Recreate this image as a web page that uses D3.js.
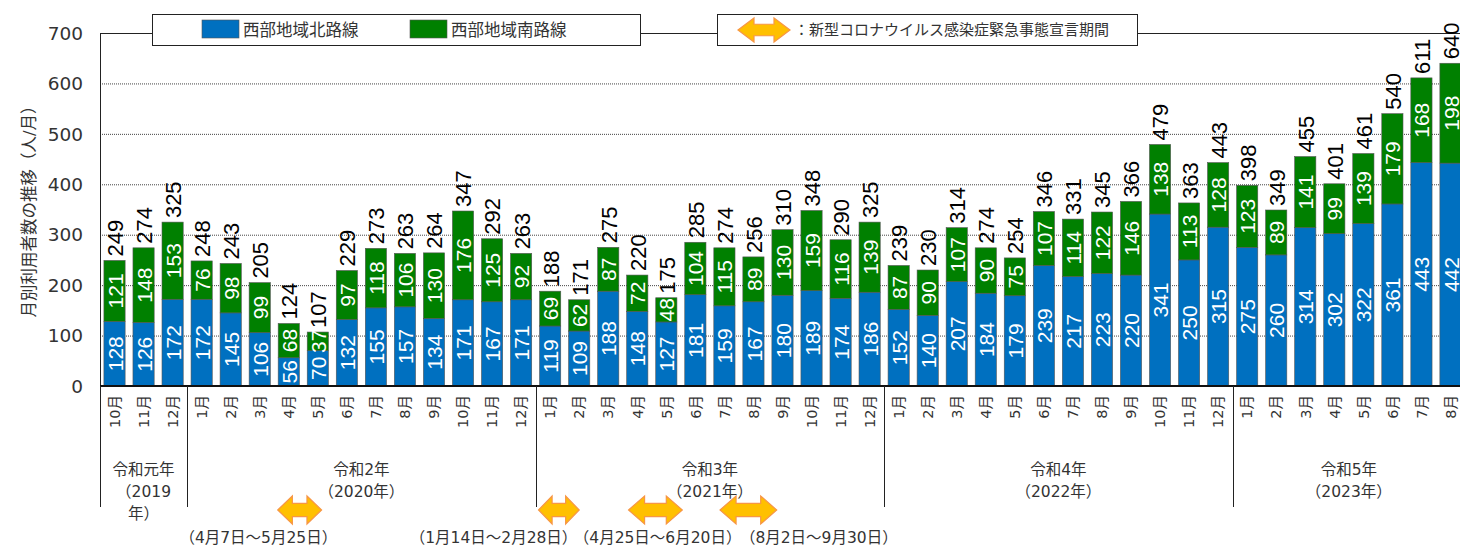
<!DOCTYPE html>
<html>
<head>
<meta charset="utf-8">
<script src="https://cdn.jsdelivr.net/npm/d3@7"></script>
<style>
  body { margin: 0; background: #fff; }
  svg { display: block; }
</style>
</head>
<body>
<div class="Chart"></div>
<script>
// month labels for every bar (Oct 2019 - Aug 2023)
const months = [
  "10月", "11月", "12月",
  "1月", "2月", "3月", "4月", "5月", "6月", "7月", "8月", "9月", "10月", "11月", "12月",
  "1月", "2月", "3月", "4月", "5月", "6月", "7月", "8月", "9月", "10月", "11月", "12月",
  "1月", "2月", "3月", "4月", "5月", "6月", "7月", "8月", "9月", "10月", "11月", "12月",
  "1月", "2月", "3月", "4月", "5月", "6月", "7月", "8月"
];

// 西部地域北路線
const northValues = [
  128, 126, 172,
  172, 145, 106, 56, 70, 132, 155, 157, 134, 171, 167, 171,
  119, 109, 188, 148, 127, 181, 159, 167, 180, 189, 174, 186,
  152, 140, 207, 184, 179, 239, 217, 223, 220, 341, 250, 315,
  275, 260, 314, 302, 322, 361, 443, 442
];

// 西部地域南路線
const southValues = [
  121, 148, 153,
  76, 98, 99, 68, 37, 97, 118, 106, 130, 176, 125, 92,
  69, 62, 87, 72, 48, 104, 115, 89, 130, 159, 116, 139,
  87, 90, 107, 90, 75, 107, 114, 122, 146, 138, 113, 128,
  123, 89, 141, 99, 139, 179, 168, 198
];

// totals printed above each bar
const totalValues = [
  249, 274, 325,
  248, 243, 205, 124, 107, 229, 273, 263, 264, 347, 292, 263,
  188, 171, 275, 220, 175, 285, 274, 256, 310, 348, 290, 325,
  239, 230, 314, 274, 254, 346, 331, 345, 366, 479, 363, 443,
  398, 349, 455, 401, 461, 540, 611, 640
];

const yTicks = [0, 100, 200, 300, 400, 500, 600, 700];

// year groups: first bar index, bar count, label lines
const yearGroups = [
  { start: 0, count: 3, lines: ["令和元年", "（2019", "年）"] },
  { start: 3, count: 12, lines: ["令和2年", "（2020年）"] },
  { start: 15, count: 12, lines: ["令和3年", "（2021年）"] },
  { start: 27, count: 12, lines: ["令和4年", "（2022年）"] },
  { start: 39, count: 8, lines: ["令和5年", "（2023年）"] }
];

// state of emergency arrows (fractional month index) and their captions
const emergencyArrows = [[6.12, 7.63], [15.1, 16.5], [18.2, 20.05], [21.35, 23.3]];
const emergencyCaptions = [
  { at: 5.45, text: "（4月7日～5月25日）" },
  { at: 13.55, text: "（1月14日～2月28日）" },
  { at: 19.2, text: "（4月25日～6月20日）" },
  { at: 24.75, text: "（8月2日～9月30日）" }
];

const seriesNames = ["西部地域北路線", "西部地域南路線"];
const emergencyLabel = "：新型コロナウイルス感染症緊急事態宣言期間";

const blue = "#0070c0", green = "#008000";
const arrowFill = "#ffc000", arrowStroke = "#f79646";
const numFont = "'Liberation Sans', Arial, sans-serif";
const jpFont = "'DejaVu Sans', 'Noto Sans CJK JP', sans-serif";

const width = 1460, height = 546;
const plot = { left: 100, right: 1465, top: 33, bottom: 386 };

const svg = d3.select(".Chart")
  .append("svg")
  .attr("width", width)
  .attr("height", height);

const x = d3.scaleBand()
  .domain(d3.range(months.length))
  .range([plot.left, plot.right])
  .paddingInner(0.27)
  .paddingOuter(0.135);

// continuous index scale for boundaries and arrows
const xi = d3.scaleLinear().domain([0, months.length]).range([plot.left, plot.right]);

const y = d3.scaleLinear().domain([0, 700]).range([plot.bottom, plot.top]);

// gridlines
svg.append("g")
  .selectAll("line")
  .data(yTicks.filter(t => t > 0 && t < 700))
  .join("line")
  .attr("x1", plot.left).attr("x2", width)
  .attr("y1", d => y(d) + 0.5).attr("y2", d => y(d) + 0.5)
  .attr("stroke", "#444")
  .attr("stroke-width", 1)
  .attr("stroke-dasharray", "1,1");

// top border line
svg.append("line")
  .attr("x1", plot.left).attr("x2", width)
  .attr("y1", y(700) + 0.5).attr("y2", y(700) + 0.5)
  .attr("stroke", "#222");

// y axis labels
svg.append("g")
  .selectAll("text")
  .data(yTicks)
  .join("text")
  .attr("x", 83)
  .attr("y", d => y(d))
  .attr("dy", "0.36em")
  .attr("text-anchor", "end")
  .attr("font-family", "'DejaVu Sans', sans-serif")
  .attr("font-size", 18.5)
  .attr("fill", "#333")
  .text(d => d);

// y axis title
svg.append("text")
  .attr("transform", `translate(35,${(plot.top + plot.bottom) / 2 - 2}) rotate(-90)`)
  .attr("text-anchor", "middle")
  .attr("font-family", jpFont)
  .attr("font-size", 16.5)
  .attr("fill", "#333")
  .text("月別利用者数の推移（人/月）");

// stacked bars
const bars = svg.append("g");
bars.selectAll(".north")
  .data(northValues)
  .join("rect")
  .attr("class", "north")
  .attr("x", (d, i) => x(i))
  .attr("width", x.bandwidth())
  .attr("y", d => y(d))
  .attr("height", d => y(0) - y(d))
  .attr("fill", blue)
  .attr("stroke", "#555")
  .attr("stroke-width", 0.6);

bars.selectAll(".south")
  .data(southValues)
  .join("rect")
  .attr("class", "south")
  .attr("x", (d, i) => x(i))
  .attr("width", x.bandwidth())
  .attr("y", (d, i) => y(northValues[i] + d))
  .attr("height", (d, i) => y(northValues[i]) - y(northValues[i] + d))
  .attr("fill", green)
  .attr("stroke", "#555")
  .attr("stroke-width", 0.6);

// inside labels
const cx = i => x(i) + x.bandwidth() / 2;
const insideLabel = (data, base) => svg.append("g")
  .selectAll("text")
  .data(data)
  .join("text")
  .attr("transform", (d, i) => `translate(${cx(i) + 0.5},${y(base(i) + d / 2)}) rotate(-90)`)
  .attr("text-anchor", "middle")
  .attr("dy", "0.36em")
  .attr("font-family", numFont)
  .attr("font-size", 21)
  .attr("fill", "#fff")
  .text(d => d);

insideLabel(northValues, () => 0);
insideLabel(southValues, i => northValues[i]);

// totals
svg.append("g")
  .selectAll("text")
  .data(totalValues)
  .join("text")
  .attr("transform", (d, i) => `translate(${cx(i) + 0.5},${y(d) - 4}) rotate(-90)`)
  .attr("text-anchor", "start")
  .attr("dy", "0.36em")
  .attr("font-family", numFont)
  .attr("font-size", 22)
  .attr("fill", "#000")
  .text(d => d);

// axes lines
svg.append("line")
  .attr("x1", plot.left + 0.5).attr("x2", plot.left + 0.5)
  .attr("y1", plot.top).attr("y2", plot.bottom)
  .attr("stroke", "#222");

svg.append("line")
  .attr("x1", plot.left).attr("x2", width)
  .attr("y1", plot.bottom).attr("y2", plot.bottom)
  .attr("stroke", "#111")
  .attr("stroke-width", 2);

// month labels
svg.append("g")
  .selectAll("text")
  .data(months)
  .join("text")
  .attr("transform", (d, i) => `translate(${cx(i)},395) rotate(-90)`)
  .attr("text-anchor", "end")
  .attr("dy", "0.36em")
  .attr("font-family", jpFont)
  .attr("font-size", 14.5)
  .attr("fill", "#333")
  .text(d => d);

// group separators
svg.append("g")
  .selectAll("line")
  .data(yearGroups)
  .join("line")
  .attr("x1", d => Math.round(xi(d.start)) + 0.5).attr("x2", d => Math.round(xi(d.start)) + 0.5)
  .attr("y1", plot.bottom).attr("y2", 507)
  .attr("stroke", "#222");

// year labels
const yearG = svg.append("g")
  .selectAll("text")
  .data(yearGroups)
  .join("text")
  .attr("text-anchor", "middle")
  .attr("font-family", jpFont)
  .attr("font-size", 15.5)
  .attr("fill", "#333");

yearG.selectAll("tspan")
  .data(d => d.lines.map(l => ({ l, c: xi(d.start + d.count / 2) })))
  .join("tspan")
  .attr("x", d => d.c)
  .attr("y", (d, j) => 475 + j * 22)
  .text(d => d.l);

// double headed block arrow
function arrowPath(x0, x1, cy, h) {
  const head = Math.min(16, (x1 - x0) / 3);
  const s = h * 0.24;
  return `M${x0},${cy} L${x0 + head},${cy - h / 2} L${x0 + head},${cy - s} L${x1 - head},${cy - s}` +
    ` L${x1 - head},${cy - h / 2} L${x1},${cy} L${x1 - head},${cy + h / 2} L${x1 - head},${cy + s}` +
    ` L${x0 + head},${cy + s} L${x0 + head},${cy + h / 2} Z`;
}

svg.append("g")
  .selectAll("path")
  .data(emergencyArrows)
  .join("path")
  .attr("d", d => arrowPath(xi(d[0]), xi(d[1]), 510, 28))
  .attr("fill", arrowFill)
  .attr("stroke", arrowStroke)
  .attr("stroke-width", 1.2);

svg.append("g")
  .selectAll("text")
  .data(emergencyCaptions)
  .join("text")
  .attr("x", d => xi(d.at))
  .attr("y", 543)
  .attr("text-anchor", "middle")
  .attr("font-family", jpFont)
  .attr("font-size", 15.5)
  .attr("fill", "#333")
  .text(d => d.text);

// legend 1
const leg1 = svg.append("g");
leg1.append("rect")
  .attr("x", 152.5).attr("y", 14.5).attr("width", 488).attr("height", 31)
  .attr("fill", "#fff").attr("stroke", "#222");
[blue, green].forEach((c, k) => {
  const lx = [202, 410][k];
  leg1.append("rect")
    .attr("x", lx).attr("y", 20).attr("width", 37).attr("height", 18)
    .attr("fill", c).attr("stroke", "#555").attr("stroke-width", 0.6);
  leg1.append("text")
    .attr("x", lx + 41).attr("y", 30)
    .attr("dy", "0.36em")
    .attr("font-family", jpFont)
    .attr("font-size", 16.5)
    .attr("fill", "#333")
    .text(seriesNames[k]);
});

// legend 2
const leg2 = svg.append("g");
leg2.append("rect")
  .attr("x", 717.5).attr("y", 14.5).attr("width", 420).attr("height", 31)
  .attr("fill", "#fff").attr("stroke", "#222");
leg2.append("path")
  .attr("d", arrowPath(738, 790, 30, 24))
  .attr("fill", arrowFill)
  .attr("stroke", arrowStroke)
  .attr("stroke-width", 1.2);
leg2.append("text")
  .attr("x", 794).attr("y", 30)
  .attr("dy", "0.36em")
  .attr("font-family", jpFont)
  .attr("font-size", 15)
  .attr("fill", "#333")
  .text(emergencyLabel);
</script>
</body>
</html>
